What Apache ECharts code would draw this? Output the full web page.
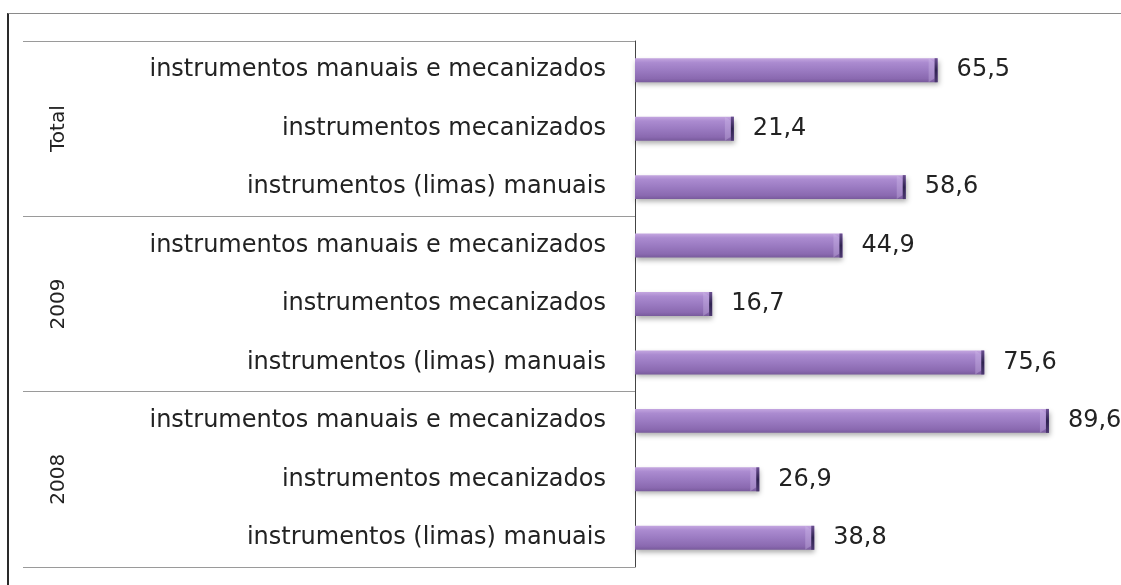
<!DOCTYPE html>
<html>
<head>
<meta charset="utf-8">
<script src="https://cdn.jsdelivr.net/npm/echarts@6/dist/echarts.min.js"></script>
<style>
  html, body { margin: 0; padding: 0; background: #fff; }
  #frame {
    position: absolute; left: 7px; top: 13px; width: 1114px; height: 572px;
    border-left: 2px solid #2a2a2a; border-top: 1px solid #8a8a8a;
  }
  #chart { position: absolute; left: 0; top: 0; width: 1121px; height: 585px; }
</style>
</head>
<body>
<div id="frame"></div>
<div id="chart"></div>
<script>
// Instrument types, repeated inside each period block (top to bottom)
const instrumentLabels = [
  'instrumentos manuais e mecanizados',
  'instrumentos mecanizados',
  'instrumentos (limas) manuais',
  'instrumentos manuais e mecanizados',
  'instrumentos mecanizados',
  'instrumentos (limas) manuais',
  'instrumentos manuais e mecanizados',
  'instrumentos mecanizados',
  'instrumentos (limas) manuais'
];
// Period blocks, top to bottom
const periodLabels = ['Total', '2009', '2008'];
// Percentages per row, top to bottom
const values = [65.5, 21.4, 58.6, 44.9, 16.7, 75.6, 89.6, 26.9, 38.8];

const FONT = 'DejaVu Sans';
const BAR_RATIO = 0.41;

const chart = echarts.init(document.getElementById('chart'), null, { renderer: 'canvas' });

const barFill = new echarts.graphic.LinearGradient(0, 0, 0, 1, [
  { offset: 0, color: '#c4a6e0' },
  { offset: 0.18, color: '#ab8bd0' },
  { offset: 0.5, color: '#9b7bc2' },
  { offset: 0.85, color: '#8a69b0' },
  { offset: 1, color: '#785a9c' }
]);

chart.setOption({
  animation: false,
  backgroundColor: 'transparent',
  grid: { left: 635, right: 24, top: 41, bottom: 18, containLabel: false },
  xAxis: {
    type: 'value', min: 0, max: 100, show: false
  },
  yAxis: [
    {
      type: 'category',
      inverse: true,
      data: instrumentLabels,
      axisLine: { show: true, lineStyle: { color: '#444', width: 1 } },
      axisTick: { show: false },
      axisLabel: { fontFamily: FONT, fontSize: 24, color: '#222', margin: 29 }
    },
    {
      type: 'category',
      inverse: true,
      position: 'left',
      data: periodLabels,
      axisLine: { show: false },
      axisTick: { show: true, length: 612, lineStyle: { color: '#9a9a9a', width: 1 } },
      axisLabel: { fontFamily: FONT, fontSize: 20, color: '#222', rotate: 90, margin: 566 }
    }
  ],
  series: [
    {
      type: 'bar',
      yAxisIndex: 0,
      data: values,
      barWidth: (BAR_RATIO * 100) + '%',
      itemStyle: {
        color: barFill,
        shadowBlur: 5,
        shadowColor: 'rgba(0,0,0,0.32)',
        shadowOffsetX: 1,
        shadowOffsetY: 3
      },
      label: {
        show: true,
        position: 'right',
        distance: 19,
        fontFamily: FONT,
        fontSize: 24,
        color: '#222',
        formatter: p => p.value.toFixed(1).replace('.', ',')
      }
    },
    {
      // dark bevelled end cap on each bar
      type: 'custom',
      yAxisIndex: 0,
      data: values.map((v, i) => [v, i]),
      encode: { x: 0, y: 1 },
      silent: true,
      z: 3,
      renderItem: (params, api) => {
        const end = api.coord([api.value(0), api.value(1)]);
        const h = api.size([0, 1])[1] * BAR_RATIO;
        const top = end[1] - h / 2;
        return {
          type: 'group',
          children: [
            {
              type: 'polygon',
              shape: { points: [[end[0] - 9, top], [end[0] - 3, top + 4], [end[0] - 3, top + h - 4], [end[0] - 9, top + h]] },
              style: { fill: 'rgba(210,190,235,0.35)' }
            },
            {
              type: 'rect',
              shape: { x: end[0] - 3, y: top, width: 3, height: h },
              style: {
                fill: new echarts.graphic.LinearGradient(0, 0, 0, 1, [
                  { offset: 0, color: '#6a4f90' },
                  { offset: 0.5, color: '#2f2350' },
                  { offset: 1, color: '#4c3870' }
                ])
              }
            }
          ]
        };
      }
    }
  ]
});
</script>
</body>
</html>
